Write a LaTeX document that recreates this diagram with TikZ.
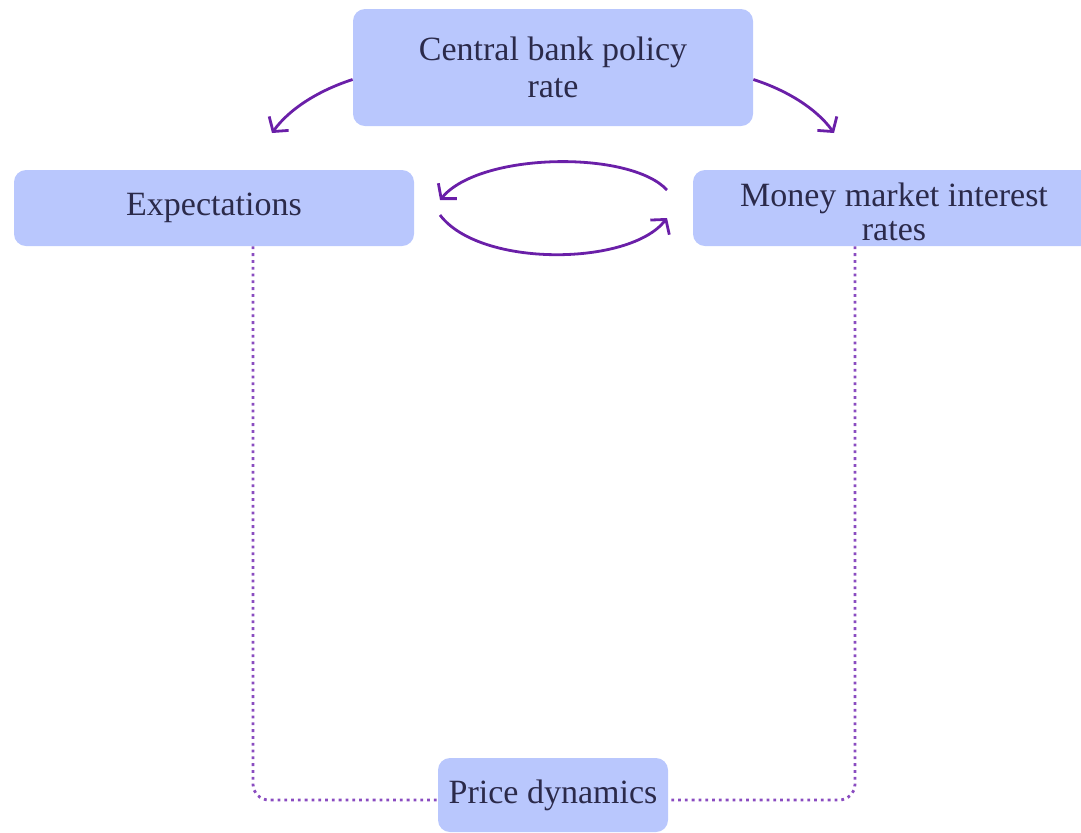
\documentclass[tikz,border=0pt]{standalone}
\usepackage{fontspec}
\setmainfont{Liberation Serif}
\usetikzlibrary{arrows.meta,calc}
\definecolor{boxfill}{HTML}{B9C7FD}
\definecolor{txt}{HTML}{2B2A4A}
\definecolor{arrcol}{HTML}{6A1FA8}
\definecolor{dotcol}{HTML}{8A4CC0}
\tikzset{
  box/.style={fill=boxfill, rounded corners=6pt, inner sep=0pt, text=txt, align=center,
    font=\fontsize{17}{18.5}\selectfont},
  lbl/.style={inner sep=0pt, text=txt, align=center, font=\fontsize{17}{17}\selectfont},
  arr/.style={draw=arrcol, line width=1.4pt, -{Straight Barb[length=5pt,width=12pt,line width=1.4pt]}},
  dotline/.style={draw=dotcol, line width=1.4pt, dotted, rounded corners=8pt}
}
\begin{document}
\begin{tikzpicture}[x=0.5pt,y=-0.5pt]
\useasboundingbox (0,0) rectangle (1081,832);
\node[box, minimum width=200pt, minimum height=58.5pt] (central) at (553,67.5) {Central bank policy\\rate};
\node[box, minimum width=200pt, minimum height=38pt] (exp) at (214,208) {Expectations};
\node[box, minimum width=201pt, minimum height=38pt] (money) at (894,208) {};
\node[lbl] (moneytext) at ([yshift=-1.75pt]money.center) {Money market interest\\rates};
\node[box, minimum width=115pt, minimum height=37pt] (price) at (553,795) {Price dynamics};
\coordinate (lt) at (272,133);
\coordinate (rt) at (834,133);
\coordinate (ua) at (667,190);
\coordinate (ub) at (440,200);
\coordinate (la) at (440,215);
\coordinate (lb) at (667,218);
\draw[arr] ([yshift=-6pt]central.west) .. controls (320,90) and (290,108) .. (lt);
\draw[arr] ([yshift=-6pt]central.east) .. controls (786,90) and (816,108) .. (rt);
\draw[arr] (ua) .. controls (630,150) and (480,152) .. (ub);
\draw[arr] (la) .. controls (480,268) and (630,266) .. (lb);
\draw[dotline] ([xshift=19.5pt]exp.south) |- ([yshift=-2.5pt]price.west);
\draw[dotline] ([xshift=-19.5pt]money.south) |- ([yshift=-2.5pt]price.east);
\end{tikzpicture}
\end{document}
